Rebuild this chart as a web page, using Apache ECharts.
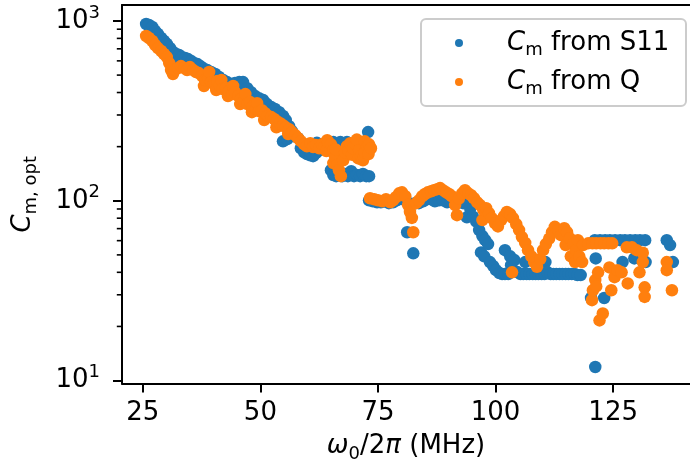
<!DOCTYPE html>
<html><head><meta charset="utf-8">
<script src="https://cdn.jsdelivr.net/npm/echarts@6/dist/echarts.min.js"></script>
<style>html,body{margin:0;padding:0;background:#fff}#c{width:690px;height:470px}</style>
</head><body><div id="c"></div>
<script>
// ---- data ----
const s11Freq = [25.7,26.3,26.6,27.0,27.6,28.2,28.7,28.9,29.5,30.1,30.8,30.8,31.4,32.1,32.7,32.9,33.3,34.0,34.6,35.0,35.3,35.9,36.6,37.2,
 37.8,38.2,38.7,39.5,40.4,40.8,41.2,42.1,42.9,43.3,43.8,44.6,45.5,45.9,46.3,47.2,48.0,48.9,49.7,
 50.6,51.4,52.3,53.1,54.0,54.8,54.8,55.4,55.7,56.1,56.7,57.4,58.0,
 58.6,59.3,59.9,60.6,61.2,61.8,62.0,62.5,63.1,63.7,64.4,65.0,65.5,65.5,66.1,66.7,67.0,67.4,68.0,68.4,68.6,69.3,69.9,70.1,70.5,71.2,71.6,71.8,72.5,72.9,73.1,
 73.1,73.9,74.8,75.6,76.5,77.3,78.2,79.0,79.9,80.8,81.2,81.6,82.5,82.9,83.7,84.6,85.4,86.3,87.1,88.0,88.8,89.7,90.5,91.4,92.2,93.1,93.9,
 94.6,95.2,95.9,96.5,96.9,97.2,97.6,97.8,98.4,98.8,99.5,100.1,100.8,101.4,102.0,102.0,102.7,103.1,103.3,104.0,104.6,105.3,105.9,106.3,106.6,107.2,107.9,108.5,109.1,109.8,110.4,110.6,111.0,111.7,112.3,112.9,113.6,
 114.2,114.9,115.5,116.2,116.8,117.4,118.1,120.3,121.1,121.2,121.3,122.2,123.1,123.3,124.3,125.4,126.5,127.0,127.5,128.6,129.5,129.7,130.7,131.8,131.9,136.4,137.1,137.7];
const s11Cm = [962,950,891,926,880,846,764,804,774,745,707,655,672,655,647,606,630,622,614,576,598,583,576,561,
 547,520,533,520,507,469,488,469,457,424,446,452,457,402,457,423,402,382,372,
 363,345,332,324,311,296,214,281,220,260,244,229,223,
 196,186,182,179,177,184,210,191,201,199,191,148,139,212,137,144,212,137,141,212,137,146,137,191,139,137,204,141,137,241,137,
 100.6,99.3,98,98,99.3,97,98,100.6,103.3,100.6,66.8,97,51,97,97,99.3,102,102,99.3,100.6,100.6,98,99.3,100.6,98,97,80.9,
 90.8,81.6,76.5,68.7,51.6,63.6,49.1,60.4,57.4,45.6,43.3,41.1,39.6,39.1,39.1,53.1,39.1,49.1,43.8,46.8,40.1,39.1,39.1,45.6,39.1,39.1,39.1,39.1,39.1,39.1,39.1,45.6,40.1,39.1,39.1,39.1,39.1,
 39.1,39.1,39.1,39.1,39.1,38.6,38.6,28.8,60.4,11.9,47.8,60.4,28.8,60.4,60.4,60.4,60.4,45.6,60.4,60.4,47.8,60.4,60.4,60.4,45.6,60.4,56.7,45.6];

const qFreq = [25.7,26.3,27.0,27.6,28.2,28.9,29.5,30.1,30.6,31.0,31.4,31.8,32.5,33.1,33.8,34.4,35.0,35.7,36.3,36.9,
 37.6,38.0,38.2,38.9,39.1,39.5,40.1,40.6,40.8,41.4,41.7,42.0,42.7,43.1,43.3,44.0,44.2,44.6,45.3,45.7,45.9,46.5,46.8,47.2,47.8,48.2,48.4,49.1,49.3,49.7,
 50.3,50.8,51.0,51.6,52.3,52.9,53.4,53.5,54.2,54.8,55.4,55.9,56.1,56.7,57.4,58.0,
 58.6,59.3,59.9,60.6,61.2,61.8,62.5,63.1,63.7,64.0,64.2,64.4,65.0,65.5,65.5,65.9,66.0,66.3,66.7,67.1,67.6,68.0,68.4,68.7,69.1,69.5,69.7,70.3,70.5,70.8,71.0,71.4,71.8,72.0,72.2,72.2,72.7,73.0,73.1,73.5,
 73.3,74.2,75.0,75.9,76.7,77.6,78.2,78.8,79.5,80.1,80.8,81.4,81.8,82.2,82.5,83.1,83.7,84.4,85.0,85.6,86.3,86.9,87.6,88.2,88.8,89.5,90.1,90.7,91.4,91.8,92.2,92.9,93.5,94.2,
 94.8,95.4,96.1,96.7,97.2,97.4,98.0,98.6,99.2,99.9,100.5,101.2,101.8,102.4,103.1,103.5,103.7,104.4,105.0,105.6,106.3,106.9,107.6,108.2,108.8,109.5,110.1,110.7,111.4,112.0,112.6,113.3,
 113.9,114.6,114.9,115.2,115.8,116.0,116.5,116.9,117.1,117.5,117.8,118.4,118.6,119.7,120.5,120.6,120.7,121.2,121.4,121.4,121.8,122.1,122.3,122.8,123.1,124.0,124.2,124.6,124.8,125.3,125.9,126.8,127.9,128.1,129.0,130.0,130.6,131.3,131.3,131.7,131.7,136.4,136.4,137.5];
const qCm = [825,804,774,735,707,681,655,630,583,533,507,533,547,561,547,533,554,533,520,513,
 494,435,469,481,520,457,446,413,463,435,469,418,424,382,407,392,435,402,382,345,368,358,392,345,354,311,336,324,349,315,
 319,281,307,296,292,285,256,277,270,263,256,235,250,241,232,223,
 214.5,206,201,209,199,204,196,206,201,189,217,212,206,191,162,175,193,158,148,137,168,186,201,190,209,180,196,204,219,172,191,177,168,175,186,214,201,182,206,196,
 103.3,102,100.6,99.3,102,98,100.6,104.6,110,111.4,106,94.6,86.6,80.3,66.8,97,100.6,106,109,111.4,113,114.5,116,117.6,114.5,111.4,109,106,94.6,83.2,103,110,114.5,110,
 107.3,103.3,98,94.6,78.1,88.8,91,85.3,80,75,72,78.1,82,86.6,84.3,40,80,74.1,68.7,62.8,58.3,53.1,49.1,45.6,42.9,47.4,53.1,57.4,61.6,66.8,71.6,68.7,
 64.4,70.3,56.7,66.8,61.8,49.1,57.3,45.6,53.1,60.4,49.1,45.6,56.7,58,28,58,31.8,36.2,58,33.4,40,21.6,58,23.6,58,58,42.6,31.8,58,37.6,41.1,40,55.1,34.7,55.1,53.1,40,51.4,45.6,33,29.2,45.6,41.1,31.8];

const xTicks = [25, 50, 75, 100, 125];
const yTicks = [10, 100, 1000];
const yMinorTicks = [20,30,40,50,60,70,80,90,200,300,400,500,600,700,800,900];
const seriesNames = ['S11', 'Q'];

// ---- chart ----
const FONT = 'DejaVu Sans';
const BLACK = '#000000';
const lineW = 2;
const X_MIN = 20.57, X_MAX = 141.34, Y_MIN = 9.63, Y_MAX = 1227;
const chart = echarts.init(document.getElementById('c'), null, {renderer: 'canvas'});
const zip = (a, b) => a.map((v, i) => [v, b[i]]);

const FS = 26, FS_SMALL = 18;
const main = {fontFamily: FONT, fontSize: FS, color: BLACK, lineHeight: 34, verticalAlign: 'middle'};
const ital = Object.assign({}, main, {fontStyle: 'italic'});
const sub = {fontFamily: FONT, fontSize: FS_SMALL, color: BLACK, lineHeight: 18, verticalAlign: 'bottom'};
const sup = {fontFamily: FONT, fontSize: FS_SMALL, color: BLACK, lineHeight: 18, verticalAlign: 'top'};

const option = {
  animation: false,
  backgroundColor: '#ffffff',
  grid: {left: 122, right: 0, top: 5, bottom: 86.5, containLabel: false},
  xAxis: [{
    type: 'value', min: X_MIN, max: X_MAX, position: 'bottom',
    axisLine: {show: true, onZero: false, lineStyle: {color: BLACK, width: lineW}},
    axisTick: {show: true, customValues: xTicks, length: 9, lineStyle: {color: BLACK, width: lineW}},
    axisLabel: {customValues: xTicks, fontFamily: FONT, fontSize: FS, lineHeight: 30, color: BLACK, margin: 15},
    splitLine: {show: false},
    name: '{i|ω}{s|0}{n|/2}{i|π}{n| (MHz)}',
    nameLocation: 'middle', nameGap: 45,
    nameTextStyle: {rich: {i: ital, n: main, s: sub}}
  }, {
    type: 'value', min: X_MIN, max: X_MAX, position: 'top',
    axisLine: {show: true, onZero: false, lineStyle: {color: BLACK, width: lineW}},
    axisTick: {show: false}, axisLabel: {show: false}, splitLine: {show: false}
  }],
  yAxis: [{
    type: 'log', logBase: 10, min: Y_MIN, max: Y_MAX, position: 'left',
    axisLine: {show: true, onZero: false, lineStyle: {color: BLACK, width: lineW}},
    axisTick: {show: true, customValues: yTicks, length: 9, lineStyle: {color: BLACK, width: lineW}},
    axisLabel: {
      customValues: yTicks, margin: 22,
      formatter: v => '{b|10}{s|' + Math.round(Math.log10(v)) + '}',
      rich: {b: main, s: sup}
    },
    splitLine: {show: false},
    name: '{i|C}{s|m, opt}',
    nameLocation: 'middle', nameRotate: 90, nameGap: 82,
    nameTextStyle: {rich: {i: ital, n: main, s: sub}}
  }],
  legend: {
    orient: 'vertical', left: 421, top: 19,
    padding: [8, 14, 8, 34], itemWidth: 8, itemHeight: 8, itemGap: 7,
    icon: 'circle',
    backgroundColor: 'rgba(255,255,255,0.8)', borderColor: '#cccccc', borderWidth: 2, borderRadius: 5,
    data: seriesNames,
    formatter: n => '{i|C}{s|m}{n| from ' + n + '}',
    textStyle: {width: 165, padding: [0, 0, 0, 39], fontFamily: FONT, fontSize: FS, color: BLACK, lineHeight: 32,
      rich: {i: Object.assign({}, ital, {lineHeight: 32}), n: Object.assign({}, main, {lineHeight: 32}), s: sub}}
  },
  series: [{
    name: seriesNames[0], type: 'scatter', xAxisIndex: 0, yAxisIndex: 0,
    data: zip(s11Freq, s11Cm), symbolSize: 12.5,
    itemStyle: {color: '#1f77b4', opacity: 1}, emphasis: {disabled: true}
  }, {
    name: seriesNames[1], type: 'scatter', xAxisIndex: 0, yAxisIndex: 0,
    data: zip(qFreq, qCm), symbolSize: 12.5,
    itemStyle: {color: '#ff7f0e', opacity: 1}, emphasis: {disabled: true}
  }, {
    // minor ticks of the log axis, positioned through the axis scale
    name: 'minorTicks', type: 'custom', coordinateSystem: 'cartesian2d', xAxisIndex: 0, yAxisIndex: 0,
    data: yMinorTicks.map(v => [X_MIN, v]), clip: false, silent: true, z: 5,
    renderItem: (params, api) => {
      const p = api.coord([api.value(0), api.value(1)]);
      return {type: 'line', shape: {x1: p[0] - 5.2, y1: p[1], x2: p[0], y2: p[1]},
        style: {stroke: BLACK, lineWidth: 1.6}};
    }
  }]
};
chart.setOption(option);
</script>
</body></html>
